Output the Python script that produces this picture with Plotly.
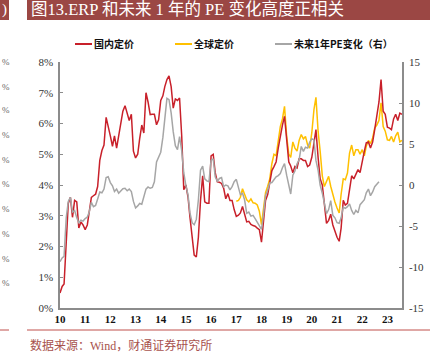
import pandas as pd
import plotly.graph_objects as go

# ---- data (monthly) ----
domestic = [0.49, 0.7, 0.78, 2.4, 3.4, 3.6, 2.95, 3.5, 3.45, 2.6, 2.8, 2.7, 2.55, 2.7, 3.1, 3.6, 3.65, 3.7, 3.95, 4.8,
            5.12, 5.3, 6.2, 5.95, 5.6, 5.26, 5.6, 5.2, 5.6, 5.95, 6.4, 6.58, 6.35, 6.1, 6.3, 5.1, 4.88, 5.0, 5.5, 5.95,
            5.69, 7.0, 6.7, 6.29, 6.3, 6.3, 5.96, 6.12, 6.75, 6.9, 7.2, 7.43, 7.55, 7.2, 6.5, 6.8, 6.75, 6.83, 5.6, 3.85,
            4.0, 3.6, 2.95, 2.3, 1.72, 1.66, 2.3, 3.5, 4.3, 3.45, 3.41, 3.41, 4.95, 5.0, 4.4, 4.1, 4.09, 4.05, 3.9, 3.55,
            3.72, 3.5, 3.5, 3.2, 2.98, 3.02, 3.09, 3.3, 3.05, 2.8, 2.82, 2.72, 2.68, 2.66, 2.6, 2.55, 2.14, 2.8, 3.5, 3.69,
            4.1, 4.47, 4.6, 4.75, 5.2, 5.6, 5.95, 6.23, 5.5, 4.75, 4.62, 4.4, 4.6, 4.55, 4.85, 4.85, 4.8, 4.8, 4.6, 4.65,
            4.9, 5.3, 5.8, 4.9, 4.2, 4.0, 3.3, 2.75, 2.85, 3.05, 2.7, 2.5, 2.3, 2.17, 2.6, 3.5, 3.35, 3.4, 3.9, 4.3,
            4.2, 4.35, 4.5, 4.4, 4.8, 5.1, 5.37, 5.4, 5.2, 5.4, 5.8, 6.3, 6.7, 7.43, 6.4, 6.3, 5.88, 5.85, 5.8, 6.15,
            6.3, 6.1, 6.34, 6.3]

global_ = [3.47, 3.5, 3.6, 3.88, 3.7, 3.52, 3.45, 3.55, 3.42, 3.41, 3.35, 3.15, 2.71, 3.3, 3.75, 3.96, 4.2, 4.7, 5.0, 4.95,
           5.5, 5.9, 6.15, 6.56, 5.6, 5.0, 4.9, 5.4, 5.2, 5.1, 5.45, 5.64, 5.5, 5.58, 5.3, 5.2, 5.7, 6.45, 6.85, 5.75,
           5.1, 4.3, 3.95, 4.1, 4.28, 3.96, 3.65, 3.45, 3.25, 3.09, 3.7, 4.2, 4.17, 4.39, 5.04, 5.3, 4.95, 5.15, 5.15, 5.0,
           5.15, 4.95, 5.26, 5.45, 5.35, 5.53, 5.85, 5.95, 6.1, 6.67, 5.9, 5.75, 5.47, 5.45, 5.58, 5.4, 5.6, 5.72, 5.4, 5.45]

pe_change = [-9.35, -8.9, -8.7, -4.0, -2.0, -1.5, -3.3, -3.1, -4.0, -4.6, -4.3, -4.4, -4.1, -3.9, -3.3, -2.1, -2.64, -2.5, -1.7, -0.85,
             -0.95, -0.5, 0.9, 1.0, 0.3, -0.1, -0.8, -0.5, -1.0, -0.7, -0.45, -0.4, -0.7, -0.5, -0.8, -2.0, -2.8, -2.55, -2.25, -2.35,
             -1.5, -0.5, -0.25, -0.4, -0.3, 0.4, 2.8, 3.45, 4.0, 5.8, 8.5, 10.57, 10.4, 8.8, 6.5, 4.8, 4.3, 5.9, 4.2, 1.5,
             -0.1, -1.2, -3.4, -4.6, -4.85, -4.2, -1.8, 1.8, 2.3, 0.75, 0.5, 0.4, 3.0, 3.2, 1.0, 0.45, 0.8, 0.9, -0.2, 0.0,
             -0.1, -0.6, -0.2, 0.4, 0.69, -0.4, -1.2, -1.0, -1.8, -3.45, -3.3, -3.8, -3.7, -4.1, -4.5, -4.85, -5.4, -3.5, -1.3, -0.6,
             0.25, 0.3, 0.7, 1.0, 1.15, 1.4, 2.1, 2.6, 1.2, -0.1, -1.1, 1.2, 1.7, 2.6, 3.05, 4.7, 4.1, 4.6, 4.5, 5.2,
             5.65, 5.5, 3.0, 1.8, 0.0, -1.0, -2.5, -3.5, -3.0, -1.9, -3.7, -4.0, -4.6, -4.67, -4.0, -2.7, -2.85, -2.64, -2.3, -3.1,
             -3.6, -3.1, -3.4, -2.4, -2.1, -1.8, -0.95, -0.5, -1.3, -0.85, -0.2, 0.1, 0.4]

series_names = ["国内定价", "全球定价", "未来1年PE变化（右）"]
left_ticks = [0, 1, 2, 3, 4, 5, 6, 7, 8]
left_tick_text = ["0%", "1%", "2%", "3%", "4%", "5%", "6%", "7%", "8%"]
right_ticks = [-15, -10, -5, 0, 5, 10, 15]
right_tick_text = ["-15", "-10", "-5", "0", "5", "10", "15"]

dates_dom = pd.date_range("2010-01-01", periods=len(domestic), freq="MS")
dates_glb = pd.date_range("2017-01-01", periods=len(global_), freq="MS")
dates_pe = pd.date_range("2010-01-01", periods=len(pe_change), freq="MS")

# ---- layout helpers (pixel -> paper) ----
W, H = 447, 358
L, R, T, B = 60, 45, 62, 50
PW, PH = W - L - R, H - T - B


def xp(px):
    return (px - L) / PW


def yp(py):
    return (H - B - py) / PH


RED = "#C8202A"
YEL = "#FFC000"
GRY = "#A6A6A6"
BANNER = "#9B4744"
colors = [RED, YEL, GRY]

fig = go.Figure()
fig.add_trace(go.Scatter(x=dates_pe, y=pe_change, name=series_names[2], yaxis="y2", mode="lines",
                         line=dict(color=GRY, width=1.5)))
fig.add_trace(go.Scatter(x=dates_glb, y=global_, name=series_names[1], mode="lines",
                         line=dict(color=YEL, width=1.5)))
fig.add_trace(go.Scatter(x=dates_dom, y=domestic, name=series_names[0], mode="lines",
                         line=dict(color=RED, width=1.5)))

serif = "Liberation Serif, Times New Roman, serif"
cjk = "Noto Sans CJK SC, sans-serif"

fig.update_layout(
    width=W, height=H,
    margin=dict(l=L, r=R, t=T, b=B, autoexpand=False),
    paper_bgcolor="white", plot_bgcolor="white",
    showlegend=False,
    xaxis=dict(type="date", range=["2010-01-01", "2023-08-01"], dtick="M12", tick0="2010-01-01",
               tickformat="%y", ticks="", showgrid=False, zeroline=False,
               showline=True, linecolor="#8C8C8C", linewidth=1.5, ticklabelstandoff=0,
               tickfont=dict(family=serif, size=11, color="#111", weight="bold")),
    yaxis=dict(range=[0, 8], tickvals=left_ticks, ticktext=left_tick_text, ticks="inside", ticklen=3,
               tickcolor="#8C8C8C", showgrid=False, zeroline=False, ticklabelstandoff=3,
               showline=True, linecolor="#8C8C8C", linewidth=1.5,
               tickfont=dict(family=serif, size=11, color="#333")),
    yaxis2=dict(range=[-15, 15], tickvals=right_ticks, ticktext=right_tick_text, overlaying="y", side="right",
                ticks="inside", ticklen=3, tickcolor="#8C8C8C", showgrid=False, zeroline=False,
                showline=True, linecolor="#8C8C8C", linewidth=1.5, ticklabelstandoff=3,
                tickfont=dict(family=serif, size=11, color="#333")),
    hovermode=False,
)

shapes = [
    dict(type="rect", xref="paper", yref="paper", x0=xp(27), x1=xp(430), y0=yp(0), y1=yp(20),
         fillcolor=BANNER, line=dict(width=0), layer="above"),
    dict(type="rect", xref="paper", yref="paper", x0=xp(-2), x1=xp(9), y0=yp(0), y1=yp(20),
         fillcolor=BANNER, line=dict(width=0), layer="above"),
    dict(type="line", xref="paper", yref="paper", x0=xp(27), x1=xp(430), y0=yp(330), y1=yp(330),
         line=dict(color="#C0504D", width=1)),
    dict(type="line", xref="paper", yref="paper", x0=xp(0), x1=xp(9), y0=yp(330), y1=yp(330),
         line=dict(color="#C0504D", width=1)),
]

annotations = [
    dict(text="图13.ERP 和未来 1 年的 PE 变化高度正相关", xref="paper", yref="paper",
         x=xp(29), y=yp(10), xanchor="left", yanchor="middle", showarrow=False,
         font=dict(family="Liberation Serif, Noto Sans CJK SC", size=16.5, color="white")),
    dict(text=")", xref="paper", yref="paper", x=xp(0), y=yp(10), xanchor="left", yanchor="middle",
         showarrow=False, font=dict(family=serif, size=15, color="white")),
    dict(text="数据来源：Wind，财通证券研究所", xref="paper", yref="paper",
         x=xp(28), y=yp(345), xanchor="left", yanchor="middle", showarrow=False,
         font=dict(family="Liberation Serif, Noto Sans CJK SC", size=12, color="#A8524D")),
]

# legend row (line sample + label for each series)
for k, (name, col) in enumerate(zip(series_names, colors)):
    x0 = 75 + 100 * k
    shapes.append(dict(type="line", xref="paper", yref="paper", x0=xp(x0), x1=xp(x0 + 17),
                       y0=yp(44), y1=yp(44), line=dict(color=col, width=2)))
    annotations.append(dict(text=name, xref="paper", yref="paper", x=xp(x0 + 17), y=yp(44),
                            xanchor="left", yanchor="middle", showarrow=False,
                            font=dict(family=cjk, size=10, color="#111", weight="bold")))

for py in [62, 87, 110, 135, 160, 184, 209, 234, 259, 283]:
    annotations.append(dict(text="%", xref="paper", yref="paper", x=xp(0), y=yp(py),
                            xanchor="left", yanchor="middle", showarrow=False,
                            font=dict(family=serif, size=9, color="#666")))

fig.update_layout(shapes=shapes, annotations=annotations)

fig.write_html("out.html", config={"displayModeBar": False},
               post_script="document.body.style.margin='0px';")
